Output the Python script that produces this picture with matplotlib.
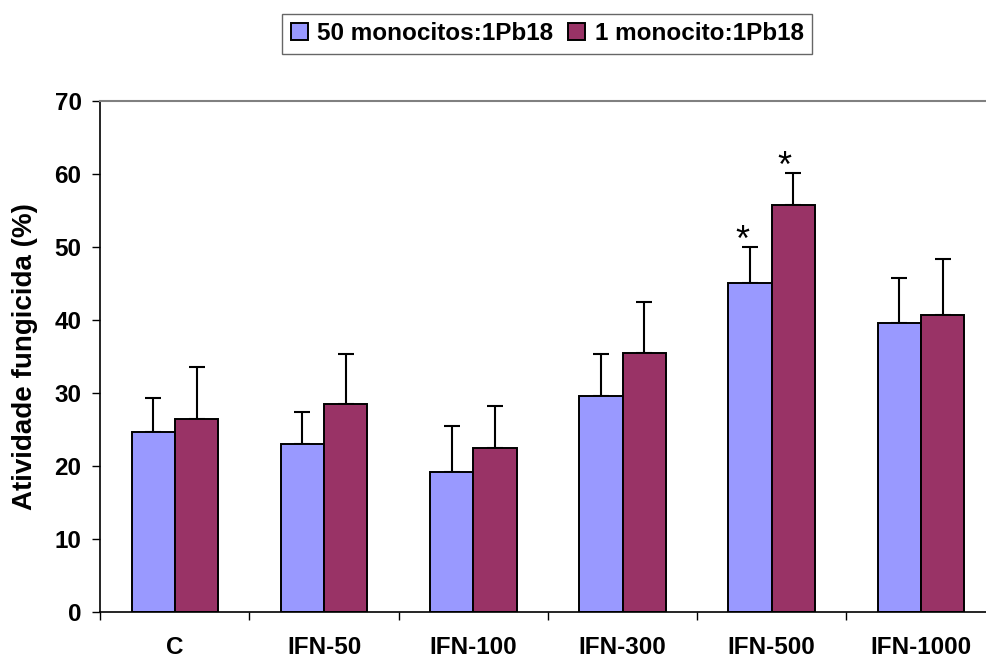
import numpy as np
import matplotlib
matplotlib.use("Agg")
import matplotlib.pyplot as plt

plt.rcParams['font.family'] = ['Liberation Sans', 'DejaVu Sans']

categories = ["C", "IFN-50", "IFN-100", "IFN-300", "IFN-500", "IFN-1000"]
series_names = ["50 monocitos:1Pb18", "1 monocito:1Pb18"]
mono50 = [24.6, 23.0, 19.2, 29.6, 45.1, 39.6]
mono50_top = [29.25, 27.4, 25.5, 35.3, 50.0, 45.7]
mono1 = [26.5, 28.45, 22.4, 35.5, 55.8, 40.7]
mono1_top = [33.6, 35.3, 28.2, 42.4, 60.15, 48.4]
# significant differences marked with an asterisk (category index)
signif50 = [4]
signif1 = [4]

colors = ["#9999FF", "#993366"]

fig = plt.figure(figsize=(9.86, 6.62), dpi=100)
# axes run a little past the right edge, like in the original picture
ax = fig.add_axes([0.1017, 0.0755, 0.908, 0.772])

x = np.arange(len(categories))
w = 0.29
err50 = np.array(mono50_top) - np.array(mono50)
err1 = np.array(mono1_top) - np.array(mono1)

ax.bar(x - w / 2, mono50, w, color=colors[0], edgecolor="black", linewidth=1.4,
       label=series_names[0], zorder=2)
ax.bar(x + w / 2, mono1, w, color=colors[1], edgecolor="black", linewidth=1.4,
       label=series_names[1], zorder=2)
ax.errorbar(x - w / 2, mono50, yerr=[np.zeros_like(err50), err50], fmt="none",
            ecolor="black", elinewidth=1.5, capsize=5.5, capthick=1.5, zorder=1)
ax.errorbar(x + w / 2, mono1, yerr=[np.zeros_like(err1), err1], fmt="none",
            ecolor="black", elinewidth=1.5, capsize=5.5, capthick=1.5, zorder=1)

for i in signif50:
    ax.text(i - w / 2 - 0.05, mono50_top[i] - 1.6, "*", ha="center", va="bottom",
            fontsize=26)
for i in signif1:
    ax.text(i + w / 2 - 0.06, mono1_top[i] - 1.6, "*", ha="center", va="bottom",
            fontsize=26)

ax.set_xlim(-0.5, len(categories) - 0.5)
ax.set_ylim(0, 70)
ax.set_yticks(np.arange(0, 71, 10))
ax.tick_params(axis="y", direction="out", length=5.5, width=1, pad=8,
               labelsize=17.5)
for lab in ax.get_yticklabels():
    lab.set_fontweight("bold")

# tick marks between categories, labels in the middle
ax.set_xticks(np.arange(len(categories) + 1) - 0.5)
ax.set_xticklabels([])
ax.set_xticks(x, minor=True)
ax.set_xticklabels(categories, minor=True, fontsize=17.5, fontweight="bold")
ax.tick_params(axis="x", which="major", direction="out", length=5.5, width=1)
ax.tick_params(axis="x", which="minor", length=0, pad=17)

ax.set_ylabel("Atividade fungicida (%)", fontsize=20, fontweight="bold",
              labelpad=12)

ax.spines["left"].set_color("black")
ax.spines["bottom"].set_color("black")
ax.spines["left"].set_linewidth(1.2)
ax.spines["bottom"].set_linewidth(1.2)
ax.spines["top"].set_color("#808080")
ax.spines["top"].set_linewidth(1.5)
ax.spines["right"].set_visible(False)

leg = fig.legend(loc="center", bbox_to_anchor=(0.555, 0.949), ncol=2,
                 prop={"size": 17.5, "weight": "bold"}, frameon=True,
                 fancybox=False, edgecolor="#404040", handlelength=0.7,
                 handleheight=0.7, handletextpad=0.4, columnspacing=0.6,
                 borderpad=0.35, borderaxespad=0)
leg.get_frame().set_linewidth(1.0)

fig.savefig("out.png", dpi=100)
